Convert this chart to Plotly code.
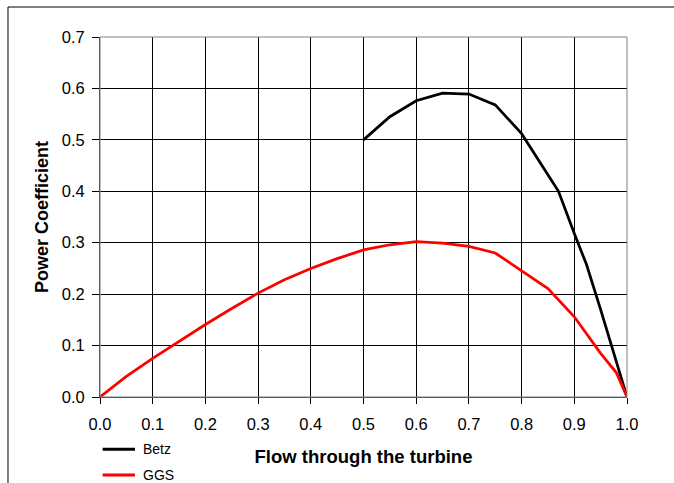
import plotly.graph_objects as go

# Power coefficient vs. flow through the turbine
betz_x = [0.50, 0.55, 0.60, 0.65, 0.70, 0.75, 0.80, 0.857, 0.87, 0.90, 0.923, 0.95, 1.00]
betz_y = [0.500, 0.545, 0.576, 0.591, 0.589, 0.568, 0.512, 0.422, 0.400, 0.318, 0.258, 0.170, 0.000]

ggs_x = [0.00, 0.05, 0.10, 0.15, 0.20, 0.25, 0.30, 0.35, 0.40, 0.45, 0.50, 0.55,
         0.60, 0.65, 0.70, 0.75, 0.80, 0.85, 0.90, 0.95, 0.98, 1.00]
ggs_y = [0.000, 0.040, 0.075, 0.108, 0.141, 0.172, 0.202, 0.228, 0.250, 0.269, 0.286, 0.296,
         0.302, 0.299, 0.293, 0.280, 0.246, 0.211, 0.156, 0.085, 0.047, 0.000]

series_names = ["Betz", "GGS"]
series_colors = ["black", "#ff0000"]

x_ticks = [0.0, 0.1, 0.2, 0.3, 0.4, 0.5, 0.6, 0.7, 0.8, 0.9, 1.0]
y_ticks = [0.0, 0.1, 0.2, 0.3, 0.4, 0.5, 0.6, 0.7]

font_family = "Liberation Sans, Arial, sans-serif"

fig = go.Figure()
for xs, ys, name, color in zip([betz_x, ggs_x], [betz_y, ggs_y], series_names, series_colors):
    fig.add_trace(go.Scatter(x=xs, y=ys, mode="lines", name=name,
                             line=dict(color=color, width=2.75)))

axis_common = dict(
    showgrid=True, gridcolor="black", gridwidth=1,
    showline=True, linecolor="#303030", linewidth=1,
    ticks="outside", tickcolor="black",
    tickfont=dict(family=font_family, size=16.5, color="black"),
    zeroline=False, tickformat=".1f",
)

fig.update_xaxes(range=[0, 1], tickvals=x_ticks, ticklen=6, ticklabelstandoff=6,
                 **axis_common,
                 title=dict(text="<b>Flow through the turbine</b>",
                            font=dict(family=font_family, size=18.5, color="black"),
                            standoff=18))
fig.update_yaxes(range=[0, 0.7], tickvals=y_ticks, ticklen=7, ticklabelstandoff=4,
                 **axis_common,
                 title=dict(text="<b>Power Coefficient</b>",
                            font=dict(family=font_family, size=18, color="black"),
                            standoff=8))

# Legend block below the lower-left corner of the plot (paper coordinates)
shapes = [
    # plot-area border
    dict(type="rect", xref="paper", yref="paper", x0=0, y0=0, x1=1, y1=1,
         line=dict(color="#808080", width=1), layer="above"),
    # outer chart frame (top and left edges)
    dict(type="line", xref="paper", yref="paper", x0=-0.1746, y0=1.0833,
         x1=1.2, y1=1.0833, line=dict(color="black", width=1)),
    dict(type="line", xref="paper", yref="paper", x0=-0.1746, y0=1.0833,
         x1=-0.1746, y1=-0.4, line=dict(color="black", width=1)),
]
annotations = []
legend_rows = [-0.1453, -0.2167]
for name, color, ly in zip(series_names, series_colors, legend_rows):
    shapes.append(dict(type="line", xref="paper", yref="paper", x0=0.005, x1=0.0664,
                       y0=ly, y1=ly, line=dict(color=color, width=3)))
    annotations.append(dict(text=name, xref="paper", yref="paper", x=0.0775, y=ly,
                            xanchor="left", yanchor="middle", showarrow=False,
                            font=dict(family=font_family, size=14, color="black")))

fig.update_layout(
    width=674, height=483,
    margin=dict(l=100, r=47, t=37, b=86),
    paper_bgcolor="white", plot_bgcolor="white",
    showlegend=False,
    shapes=shapes,
    annotations=annotations,
)

fig.write_html("out.html")
